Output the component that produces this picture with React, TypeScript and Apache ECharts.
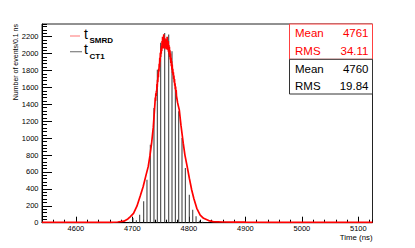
import React, { useEffect, useRef } from "react";
import * as echarts from "echarts";

// t_CT1 histogram: discrete spike positions (ns) and counts
const ct1Times = [4695.2, 4701.0, 4707.0, 4712.9, 4720.0, 4725.8, 4731.7, 4738.2, 4744.1, 4750.1, 4757.2, 4764.3, 4770.1, 4776.0, 4782.0, 4787.8, 4793.7, 4800.7, 4806.8, 4812.7, 4818.5, 4824.4];
const ct1Counts = [12, 56, 30, 95, 253, 509, 923, 1357, 1810, 2127, 2245, 2225, 2028, 1614, 1318, 1002, 647, 331, 154, 76, 24, 10];

// t_SMRD histogram: read-off outline (time ns, counts)
const smrdTimes = [
  4540, 4560, 4580, 4600, 4620, 4640, 4660, 4674, 4685, 4692, 4696, 4702, 4708, 4714, 4719, 4724, 4728, 4731, 4734, 4737,
  4740, 4740.5, 4741, 4741.5, 4742, 4742.5, 4743, 4743.5, 4744, 4744.5, 4745, 4745.5, 4746, 4746.5, 4747, 4747.5,
  4748, 4748.5, 4749, 4749.5, 4750, 4750.5, 4751, 4751.5, 4752, 4752.5, 4753, 4753.5, 4754, 4754.5, 4755, 4755.5,
  4756, 4756.5, 4757, 4757.5, 4758, 4758.5, 4759, 4759.5, 4760, 4760.5, 4761, 4761.5, 4762, 4762.5, 4763, 4763.5,
  4764, 4764.5, 4765, 4765.5, 4766, 4766.5, 4767, 4767.5, 4768, 4768.5, 4769, 4769.5, 4770, 4770.5, 4771, 4771.5,
  4772, 4772.5, 4773, 4773.5, 4774, 4774.5, 4775, 4775.5, 4776, 4776.5, 4777, 4777.5, 4778, 4779, 4780, 4781,
  4783, 4786, 4790, 4793, 4797, 4801, 4805, 4809, 4814, 4820, 4826, 4835, 4843, 4860, 4880, 4900, 4950, 5000, 5050, 5100, 5125,
];
const smrdCounts = [
  3, 3, 4, 4, 4, 5, 5, 8, 18, 45, 70, 110, 195, 320, 426, 560, 663, 790, 940, 1130,
  1420, 1480, 1440, 1530, 1500, 1560, 1540, 1640, 1600, 1690, 1660, 1760, 1720, 1820, 1790, 1880,
  1840, 1950, 1900, 2010, 1960, 2060, 2000, 2090, 2030, 2150, 2060, 2200, 2070, 2160, 2080, 2230,
  2060, 2150, 2090, 2180, 2060, 2160, 2080, 2140, 2050, 2170, 2060, 2200, 2050, 2130, 2040, 2150,
  2020, 2100, 1990, 2080, 1960, 2040, 1930, 2000, 1890, 1950, 1850, 1910, 1810, 1870, 1770, 1820,
  1740, 1780, 1700, 1740, 1660, 1700, 1620, 1650, 1580, 1610, 1540, 1570, 1500, 1460, 1420, 1390,
  1334, 1150, 940, 800, 663, 520, 387, 280, 170, 90, 52, 25, 12, 8, 7, 6, 5, 4, 4, 3, 3,
];

const xMin = 4540;
const xMax = 5125;
const yMin = 0;
const yMax = 2350;

const FONT = "Liberation Sans, Arial, Helvetica, sans-serif";

export default function App() {
  const ref = useRef<HTMLDivElement>(null);
  useEffect(() => {
    if (!ref.current) return;
    const chart = echarts.init(ref.current, undefined, { renderer: "svg" });
    const ct1Data = ct1Times.map((t, i) => [t, ct1Counts[i]]);
    const smrdData = smrdTimes.map((t, i) => [t, smrdCounts[i]]);
    const gl = 42, gt = 24, gr = 42.5, gb = 25.3;
    const right = 415 - gr;
    const plain = (v: number) => String(v);
    chart.setOption({
      animation: false,
      backgroundColor: "#fff",
      textStyle: { fontFamily: FONT },
      grid: { left: gl, top: gt, right: gr, bottom: gb, show: true, borderColor: "#222", borderWidth: 1, backgroundColor: "transparent" },
      xAxis: [
        {
          type: "value", min: xMin, max: xMax, position: "bottom",
          axisLine: { show: true, onZero: false, lineStyle: { color: "#000", width: 1 } },
          axisTick: { show: true, inside: true, length: 6, lineStyle: { color: "#000" } },
          axisLabel: { show: true, showMinLabel: false, showMaxLabel: false, fontSize: 7.5, color: "#000", margin: 2, fontFamily: FONT, formatter: plain },
          splitLine: { show: false },
        },
        {
          type: "value", min: xMin, max: xMax, interval: 20, position: "bottom",
          axisLine: { show: false, onZero: false },
          axisTick: { show: true, inside: true, length: 3, lineStyle: { color: "#000" } },
          axisLabel: { show: false },
          splitLine: { show: false },
        },
      ],
      yAxis: [
        {
          type: "value", min: yMin, max: yMax, interval: 200, position: "left",
          axisLine: { show: true, onZero: false, lineStyle: { color: "#000", width: 1 } },
          axisTick: { show: true, inside: true, length: 10, lineStyle: { color: "#000" } },
          axisLabel: { show: true, showMaxLabel: false, fontSize: 7.5, color: "#000", margin: 3.5, fontFamily: FONT, formatter: plain },
          splitLine: { show: false },
        },
        {
          type: "value", min: yMin, max: yMax, interval: 40, position: "left",
          axisLine: { show: false, onZero: false },
          axisTick: { show: true, inside: true, length: 5, lineStyle: { color: "#000" } },
          axisLabel: { show: false },
          splitLine: { show: false },
        },
      ],
      series: [
        {
          type: "bar", name: "tCT1", xAxisIndex: 0, yAxisIndex: 0, data: ct1Data,
          barWidth: 1, itemStyle: { color: "#333" }, silent: true,
        },
        {
          type: "line", name: "tSMRD", xAxisIndex: 0, yAxisIndex: 0, data: smrdData,
          showSymbol: false, symbol: "none", lineStyle: { color: "#ff0000", width: 1.7 }, silent: true,
        },
      ],
      graphic: [
        // y axis title
        { type: "text", z: 100, x: 15, y: gt, rotation: Math.PI / 2, style: { text: "Number of events/0.1 ns", fontSize: 7, fontFamily: FONT, fill: "#000", align: "right", verticalAlign: "middle" } },
        // x axis title
        { type: "text", z: 100, x: right, y: 237.5, style: { text: "Time (ns)", fontSize: 7.8, fontFamily: FONT, fill: "#000", align: "right", verticalAlign: "middle" } },
        // legend
        { type: "line", z: 100, shape: { x1: 70, y1: 36, x2: 80, y2: 36 }, style: { stroke: "#ff8a8a", lineWidth: 1.2 } },
        { type: "text", z: 100, x: 84, y: 33.5, style: { text: "t", fontSize: 14, fontFamily: FONT, fill: "#000", verticalAlign: "middle" } },
        { type: "text", z: 100, x: 89.5, y: 40.8, style: { text: "SMRD", fontSize: 8, fontWeight: "bold", fontFamily: FONT, fill: "#000", verticalAlign: "middle" } },
        { type: "line", z: 100, shape: { x1: 70, y1: 51.7, x2: 82, y2: 51.7 }, style: { stroke: "#808080", lineWidth: 1.2 } },
        { type: "text", z: 100, x: 84, y: 49.2, style: { text: "t", fontSize: 14, fontFamily: FONT, fill: "#000", verticalAlign: "middle" } },
        { type: "text", z: 100, x: 89.5, y: 56.5, style: { text: "CT1", fontSize: 8, fontWeight: "bold", fontFamily: FONT, fill: "#000", verticalAlign: "middle" } },
        // stats boxes
        { type: "rect", z: 100, shape: { x: 289.5, y: 24, width: right - 289.5, height: 35.3 }, style: { fill: "#fff", stroke: "#ff4040", lineWidth: 1 } },
        { type: "text", z: 101, x: 295, y: 33.3, style: { text: "Mean", fontSize: 11.5, fontFamily: FONT, fill: "#ff0000", verticalAlign: "middle" } },
        { type: "text", z: 101, x: 368.5, y: 33.3, style: { text: "4761", fontSize: 11.5, fontFamily: FONT, fill: "#ff0000", align: "right", verticalAlign: "middle" } },
        { type: "text", z: 101, x: 295, y: 51.3, style: { text: "RMS", fontSize: 11.5, fontFamily: FONT, fill: "#ff0000", verticalAlign: "middle" } },
        { type: "text", z: 101, x: 368.5, y: 51.3, style: { text: "34.11", fontSize: 11.5, fontFamily: FONT, fill: "#ff0000", align: "right", verticalAlign: "middle" } },
        { type: "rect", z: 100, shape: { x: 289.5, y: 59.3, width: right - 289.5, height: 34.7 }, style: { fill: "#fff", stroke: "#333", lineWidth: 1 } },
        { type: "text", z: 101, x: 295, y: 69.3, style: { text: "Mean", fontSize: 11.5, fontFamily: FONT, fill: "#000", verticalAlign: "middle" } },
        { type: "text", z: 101, x: 368.5, y: 69.3, style: { text: "4760", fontSize: 11.5, fontFamily: FONT, fill: "#000", align: "right", verticalAlign: "middle" } },
        { type: "text", z: 101, x: 295, y: 86.3, style: { text: "RMS", fontSize: 11.5, fontFamily: FONT, fill: "#000", verticalAlign: "middle" } },
        { type: "text", z: 101, x: 368.5, y: 86.3, style: { text: "19.84", fontSize: 11.5, fontFamily: FONT, fill: "#000", align: "right", verticalAlign: "middle" } },
      ],
    });
    return () => chart.dispose();
  }, []);
  return <div ref={ref} style={{ position: "fixed", left: 0, top: 0, width: 415, height: 248 }} />;
}
